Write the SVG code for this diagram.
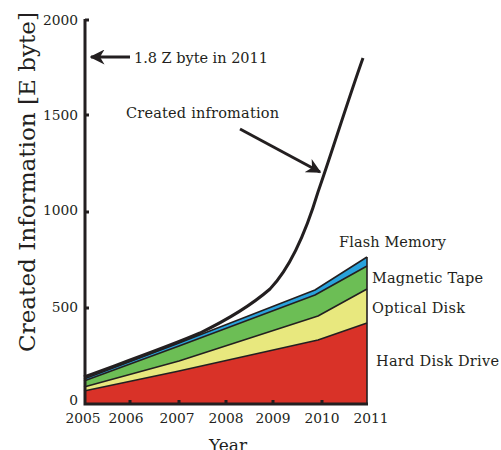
<svg xmlns="http://www.w3.org/2000/svg" width="501" height="450" viewBox="0 0 501 450">
  <style>
    text { font-family: "DejaVu Serif", "Liberation Serif", serif; fill: #231f20; }
    .tick { font-size: 13.8px; }
    .lbl { font-size: 14.5px; }
    .axis { stroke: #231f20; stroke-width: 3; fill: none; }
    .edge { stroke: #231f20; stroke-width: 1.6; fill: none; stroke-linejoin: round; }
    .arrow { stroke: #231f20; stroke-width: 3; fill: none; }
  </style>
  <defs>
    <marker id="head" viewBox="0 0 10 10" refX="9" refY="5" markerWidth="5" markerHeight="5" orient="auto" markerUnits="strokeWidth">
      <path d="M0,0 L10,5 L0,10 L3,5 Z" fill="#231f20"/>
    </marker>
  </defs>
  <rect width="501" height="450" fill="#fff"/>

  <!-- stacked storage areas -->
  <g id="hard-disk">
    <path d="M84,391 L179,371 L318,340 L367,323 L367,404 L84,404 Z" fill="#d93228"/>
  </g>
  <g id="optical-disk">
    <path d="M84,387 L179,361 L318,316 L367,289 L367,323 L318,340 L179,371 L84,391 Z" fill="#e8e87e"/>
  </g>
  <g id="magnetic-tape">
    <path d="M84,381 L179,346 L315,295 L367,266 L367,289 L318,316 L179,361 L84,387 Z" fill="#6cbe55"/>
  </g>
  <g id="flash-memory">
    <path d="M84,379 L179,343 L315,290 L367,257 L367,266 L315,295 L179,346 L84,381 Z" fill="#29a2dc"/>
  </g>

  <g id="connectors">
    <!-- layer boundaries -->
    <path class="edge" d="M84,391 L179,371 L318,340 L367,323"/>
    <path class="edge" d="M84,387 L179,361 L318,316 L367,289"/>
    <path class="edge" d="M84,381 L179,346 L315,295 L367,266"/>
    <path class="edge" d="M84,379 L179,343 L315,290 L367,257"/>
    <path class="edge" d="M367,257 L367,404"/>
    <!-- total created information -->
    <path d="M84,377 C130,360 170,346 200,333 C235,316 255,302 270,289 C290,268 305,235 318,192 C330,158 348,100 363,58" stroke="#231f20" stroke-width="3" fill="none"/>
    <!-- annotation arrows -->
    <path class="arrow" d="M130,57 L91,57" marker-end="url(#head)"/>
    <path class="arrow" d="M240,129 L320,172" marker-end="url(#head)"/>
  </g>

  <!-- axes -->
  <g id="axes">
    <path class="axis" d="M85,19 L85,404 L368,404"/>
    <g stroke="#231f20" stroke-width="3">
      <path d="M85,20 H89 M85,115 H89 M85,212 H89 M85,308 H89"/>
      <path d="M130,404 V400 M179,404 V400 M226,404 V400 M273,404 V400 M322,404 V400"/>
    </g>
    <g class="tick" text-anchor="end">
      <text x="78" y="25">2000</text>
      <text x="78" y="120">1500</text>
      <text x="78" y="215">1000</text>
      <text x="78" y="312">500</text>
      <text x="78" y="405">0</text>
    </g>
    <g class="tick" text-anchor="middle">
      <text x="83" y="423">2005</text>
      <text x="126" y="423">2006</text>
      <text x="177" y="423">2007</text>
      <text x="226" y="423">2008</text>
      <text x="273" y="423">2009</text>
      <text x="322" y="423">2010</text>
      <text x="371" y="423">2011</text>
    </g>
    <text x="228" y="451" text-anchor="middle" font-size="17">Year</text>
    <text transform="translate(35,182) rotate(-90)" text-anchor="middle" font-size="23" textLength="340" lengthAdjust="spacingAndGlyphs">Created Information [E byte]</text>
  </g>

  <!-- labels -->
  <g id="labels" class="lbl">
    <text x="134" y="63" textLength="134">1.8 Z byte in 2011</text>
    <text x="126" y="118" textLength="153">Created infromation</text>
    <text x="339" y="247" textLength="107">Flash Memory</text>
    <text x="372" y="283" textLength="111">Magnetic Tape</text>
    <text x="372" y="313" textLength="93">Optical Disk</text>
    <text x="376" y="366" textLength="123">Hard Disk Drive</text>
  </g>
</svg>
